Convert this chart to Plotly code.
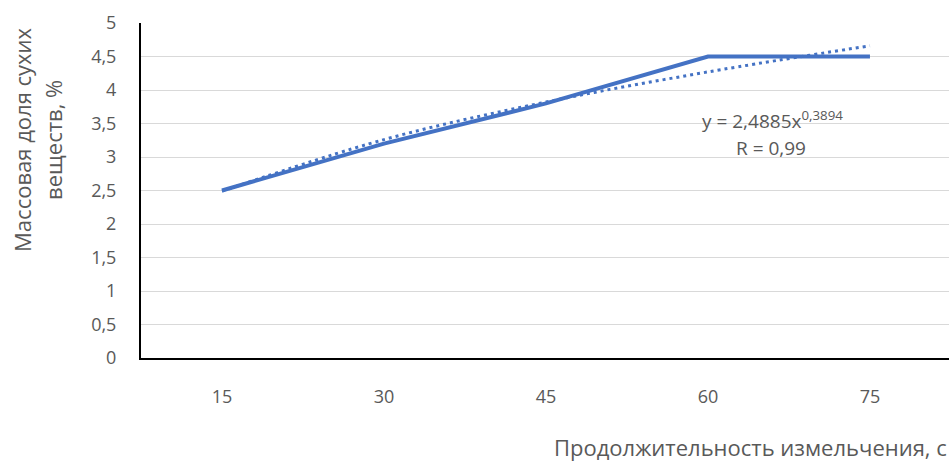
import plotly.graph_objects as go

categories = ["15", "30", "45", "60", "75"]
values = [2.5, 3.2, 3.8, 4.5, 4.5]
trend_values = [2.49, 3.26, 3.82, 4.27, 4.66]
y_ticks = [0, 0.5, 1, 1.5, 2, 2.5, 3, 3.5, 4, 4.5, 5]
y_tick_labels = ["0", "0,5", "1", "1,5", "2", "2,5", "3", "3,5", "4", "4,5", "5"]

blue = "#4472C4"
grey = "#595959"

fig = go.Figure()
fig.add_trace(go.Scatter(x=categories, y=values, mode="lines",
                         line=dict(color=blue, width=4), showlegend=False))
fig.add_trace(go.Scatter(x=categories, y=trend_values, mode="lines",
                         line=dict(color=blue, width=3, dash="3px,4px", shape="spline"),
                         showlegend=False))

fig.update_layout(
    width=949, height=461,
    margin=dict(l=141, r=0, t=23, b=103),
    paper_bgcolor="white", plot_bgcolor="white",
    font=dict(family="Open Sans", color=grey),
    xaxis=dict(type="category", range=[-0.5, 4.488], showgrid=False,
               showline=True, linecolor="black", linewidth=2,
               ticks="", ticklabelstandoff=21,
               tickfont=dict(family="Open Sans", size=18, color=grey)),
    yaxis=dict(range=[0, 5], tickvals=y_ticks, ticktext=y_tick_labels,
               showgrid=True, gridcolor="#D9D9D9", gridwidth=1,
               showline=True, linecolor="black", linewidth=2,
               ticks="", ticklabelstandoff=19, zeroline=False,
               tickfont=dict(family="Open Sans", size=18, color=grey)),
    annotations=[
        dict(text="Массовая доля сухих", textangle=-90,
             xref="paper", yref="paper", x=(22 - 141) / 808, y=0.651,
             xanchor="center", yanchor="middle", showarrow=False,
             font=dict(family="Open Sans", size=22, color=grey)),
        dict(text="веществ, %", textangle=-90,
             xref="paper", yref="paper", x=(53 - 141) / 808, y=0.651,
             xanchor="center", yanchor="middle", showarrow=False,
             font=dict(family="Open Sans", size=22, color=grey)),
        dict(text="Продолжительность измельчения, с",
             xref="paper", yref="paper", x=1.0, y=-0.266, xanchor="right",
             yanchor="middle", showarrow=False,
             font=dict(family="Open Sans", size=22, color=grey)),
        dict(text="y = 2,4885x<sup>0,3894</sup>",
             xref="x", yref="y", x=3.398, y=(358 - 120) / 67, xanchor="center",
             yanchor="middle", showarrow=False,
             font=dict(family="Open Sans", size=19, color=grey)),
        dict(text="R = 0,99",
             xref="x", yref="y", x=3.389, y=(358 - 148) / 67, xanchor="center",
             yanchor="middle", showarrow=False,
             font=dict(family="Open Sans", size=19, color=grey)),
    ],
)

fig.write_html("out.html", post_script="document.body.style.margin='0';",
               config={"displayModeBar": False})
